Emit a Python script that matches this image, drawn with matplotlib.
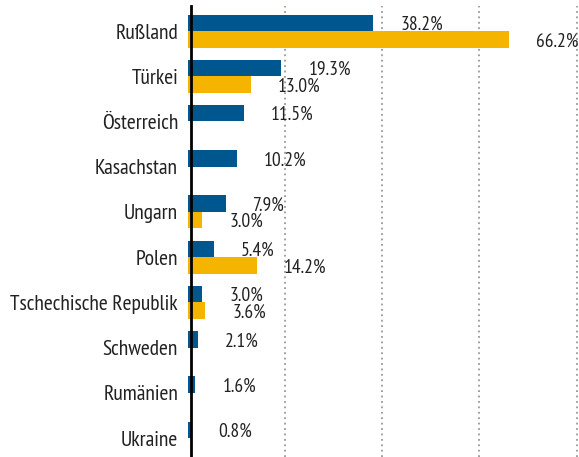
import numpy as np
import matplotlib
matplotlib.use('Agg')
import matplotlib.pyplot as plt
import matplotlib.transforms as mtransforms

plt.rcParams['font.family'] = ['PT Sans Narrow', 'DejaVu Sans']

# Daten
laender = ['Rußland', 'Türkei', 'Österreich', 'Kasachstan', 'Ungarn', 'Polen',
           'Tschechische Republik', 'Schweden', 'Rumänien', 'Ukraine']
werte_blau = [38.2, 19.3, 11.5, 10.2, 7.9, 5.4, 3.0, 2.1, 1.6, 0.8]
werte_gelb = [66.2, 13.0, np.nan, np.nan, 3.0, 14.2, 3.6, np.nan, np.nan, np.nan]
gitter = [20, 40, 60, 80]

BLAU = '#00578f'
GELB = '#f5b400'
TEXT = '#222222'

fig = plt.figure(figsize=(5.79, 4.57), dpi=100)
ax = fig.add_axes([187.6 / 579, 0, (579 - 187.6) / 579, 451 / 457])

y = np.arange(len(laender))
h = 0.365  # Balkenhöhe

ax.barh(y - h / 2, werte_blau, height=h, color=BLAU, zorder=2)
ax.barh(y + h / 2, np.nan_to_num(werte_gelb), height=h, color=GELB, zorder=2)

# Beschriftungen rechts neben den Balken
for i, v in enumerate(werte_blau):
    ax.annotate(f'{v:.1f}%', (v, i - h / 2), xytext=(27, -2), textcoords='offset pixels',
                ha='left', va='center', fontsize=14, color=TEXT)
for i, v in enumerate(werte_gelb):
    if np.isnan(v):
        continue
    ax.annotate(f'{v:.1f}%', (v, i + h / 2), xytext=(27, -2), textcoords='offset pixels',
                ha='left', va='center', fontsize=14, color=TEXT)

ax.set_xlim(0, 80.5)
ax.set_ylim(9.42, -0.553)

ax.set_yticks(y)
ax.set_yticklabels(laender)
ax.tick_params(axis='y', length=0, pad=9, labelsize=15.5, labelcolor=TEXT)
# Kategorienamen etwas tiefer setzen
verschiebung = mtransforms.ScaledTranslation(0, -3 / 100, fig.dpi_scale_trans)
for lbl in ax.get_yticklabels():
    lbl.set_transform(lbl.get_transform() + verschiebung)

ax.set_xticks(gitter)
ax.tick_params(axis='x', length=0, labelbottom=False)
ax.grid(axis='x', color='#999999', linestyle=(0, (1, 2)), linewidth=1.3, zorder=0)
ax.set_axisbelow(True)

for s in ['top', 'right', 'bottom']:
    ax.spines[s].set_visible(False)
ax.spines['left'].set_position(('data', 0.6))
ax.spines['left'].set_linewidth(2)
ax.spines['left'].set_color('black')
ax.spines['left'].set_zorder(3)

fig.savefig('out.png', dpi=100)
